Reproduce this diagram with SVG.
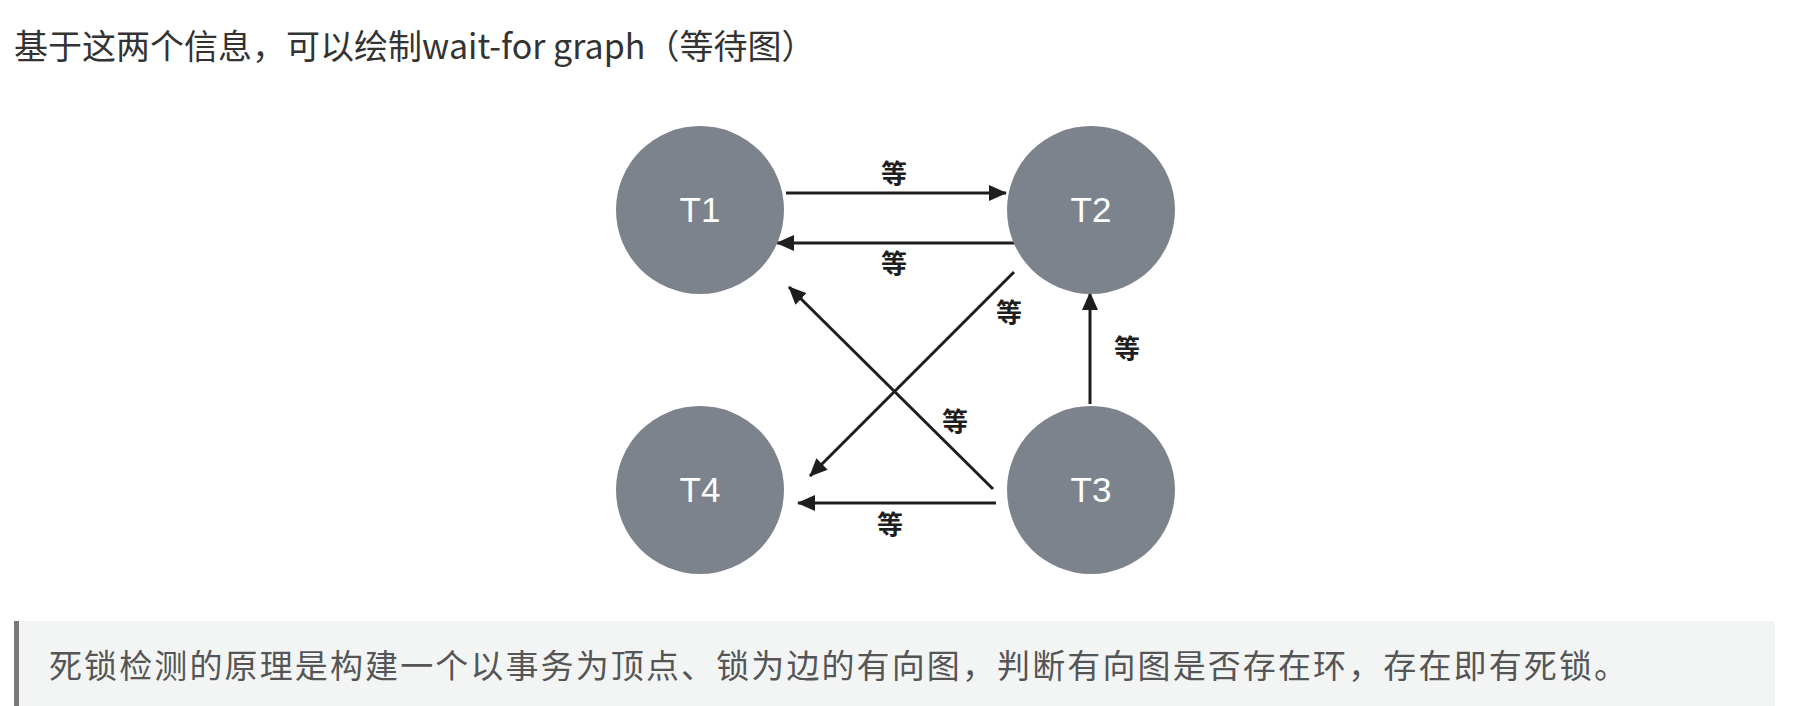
<svg xmlns="http://www.w3.org/2000/svg" width="1800" height="706" viewBox="0 0 1800 706">
<style>
.node{fill:#7d838c}
.nl{font-family:"Liberation Sans",Arial,sans-serif;font-size:35px;fill:#ffffff;text-anchor:middle}
.edge{stroke:#1e1e1e;stroke-width:3;fill:none}
.el{font-family:"Noto Sans CJK SC",sans-serif;font-size:26px;font-weight:bold;fill:#1e1e1e;text-anchor:middle}
.title{font-family:"Noto Sans CJK SC",sans-serif;font-size:34px;fill:#333333}
.quote{font-family:"Noto Sans CJK SC",sans-serif;font-size:33px;fill:#555555}
</style>
<defs>
<marker id="ah" markerUnits="userSpaceOnUse" markerWidth="18" markerHeight="16" refX="17" refY="8" orient="auto">
<path d="M0,0 L18,8 L0,16 z" fill="#1e1e1e"/>
</marker>
</defs>
<rect width="1800" height="706" fill="#ffffff"/>
<text class="title" x="14" y="59">基于这两个信息，可以绘制wait-for graph（等待图）</text>
<g id="connectors">
<line class="edge" x1="786" y1="193" x2="1006" y2="193" marker-end="url(#ah)"/>
<line class="edge" x1="1017" y1="243" x2="777" y2="243" marker-end="url(#ah)"/>
<line class="edge" x1="1014" y1="272" x2="810" y2="476" marker-end="url(#ah)"/>
<line class="edge" x1="993" y1="489" x2="789" y2="287" marker-end="url(#ah)"/>
<line class="edge" x1="1090" y1="404" x2="1090" y2="293" marker-end="url(#ah)"/>
<line class="edge" x1="996" y1="503" x2="798" y2="503" marker-end="url(#ah)"/>
<text class="el" x="894" y="183">等</text>
<text class="el" x="894" y="273">等</text>
<text class="el" x="1009" y="322">等</text>
<text class="el" x="1127" y="358">等</text>
<text class="el" x="955" y="431">等</text>
<text class="el" x="890" y="534">等</text>
</g>
<g id="T1"><circle class="node" cx="700" cy="210" r="84"/><text class="nl" x="700" y="222">T1</text></g>
<g id="T2"><circle class="node" cx="1091" cy="210" r="84"/><text class="nl" x="1091" y="222">T2</text></g>
<g id="T3"><circle class="node" cx="1091" cy="490" r="84"/><text class="nl" x="1091" y="502">T3</text></g>
<g id="T4"><circle class="node" cx="700" cy="490" r="84"/><text class="nl" x="700" y="502">T4</text></g>
<g id="quote">
<rect x="14" y="621" width="1761" height="85" fill="#f3f5f5"/>
<rect x="14" y="621" width="5" height="85" fill="#7a7a7a"/>
<text class="quote" x="49" y="678" textLength="1578" lengthAdjust="spacing">死锁检测的原理是构建一个以事务为顶点、锁为边的有向图，判断有向图是否存在环，存在即有死锁。</text>
</g>
</svg>
